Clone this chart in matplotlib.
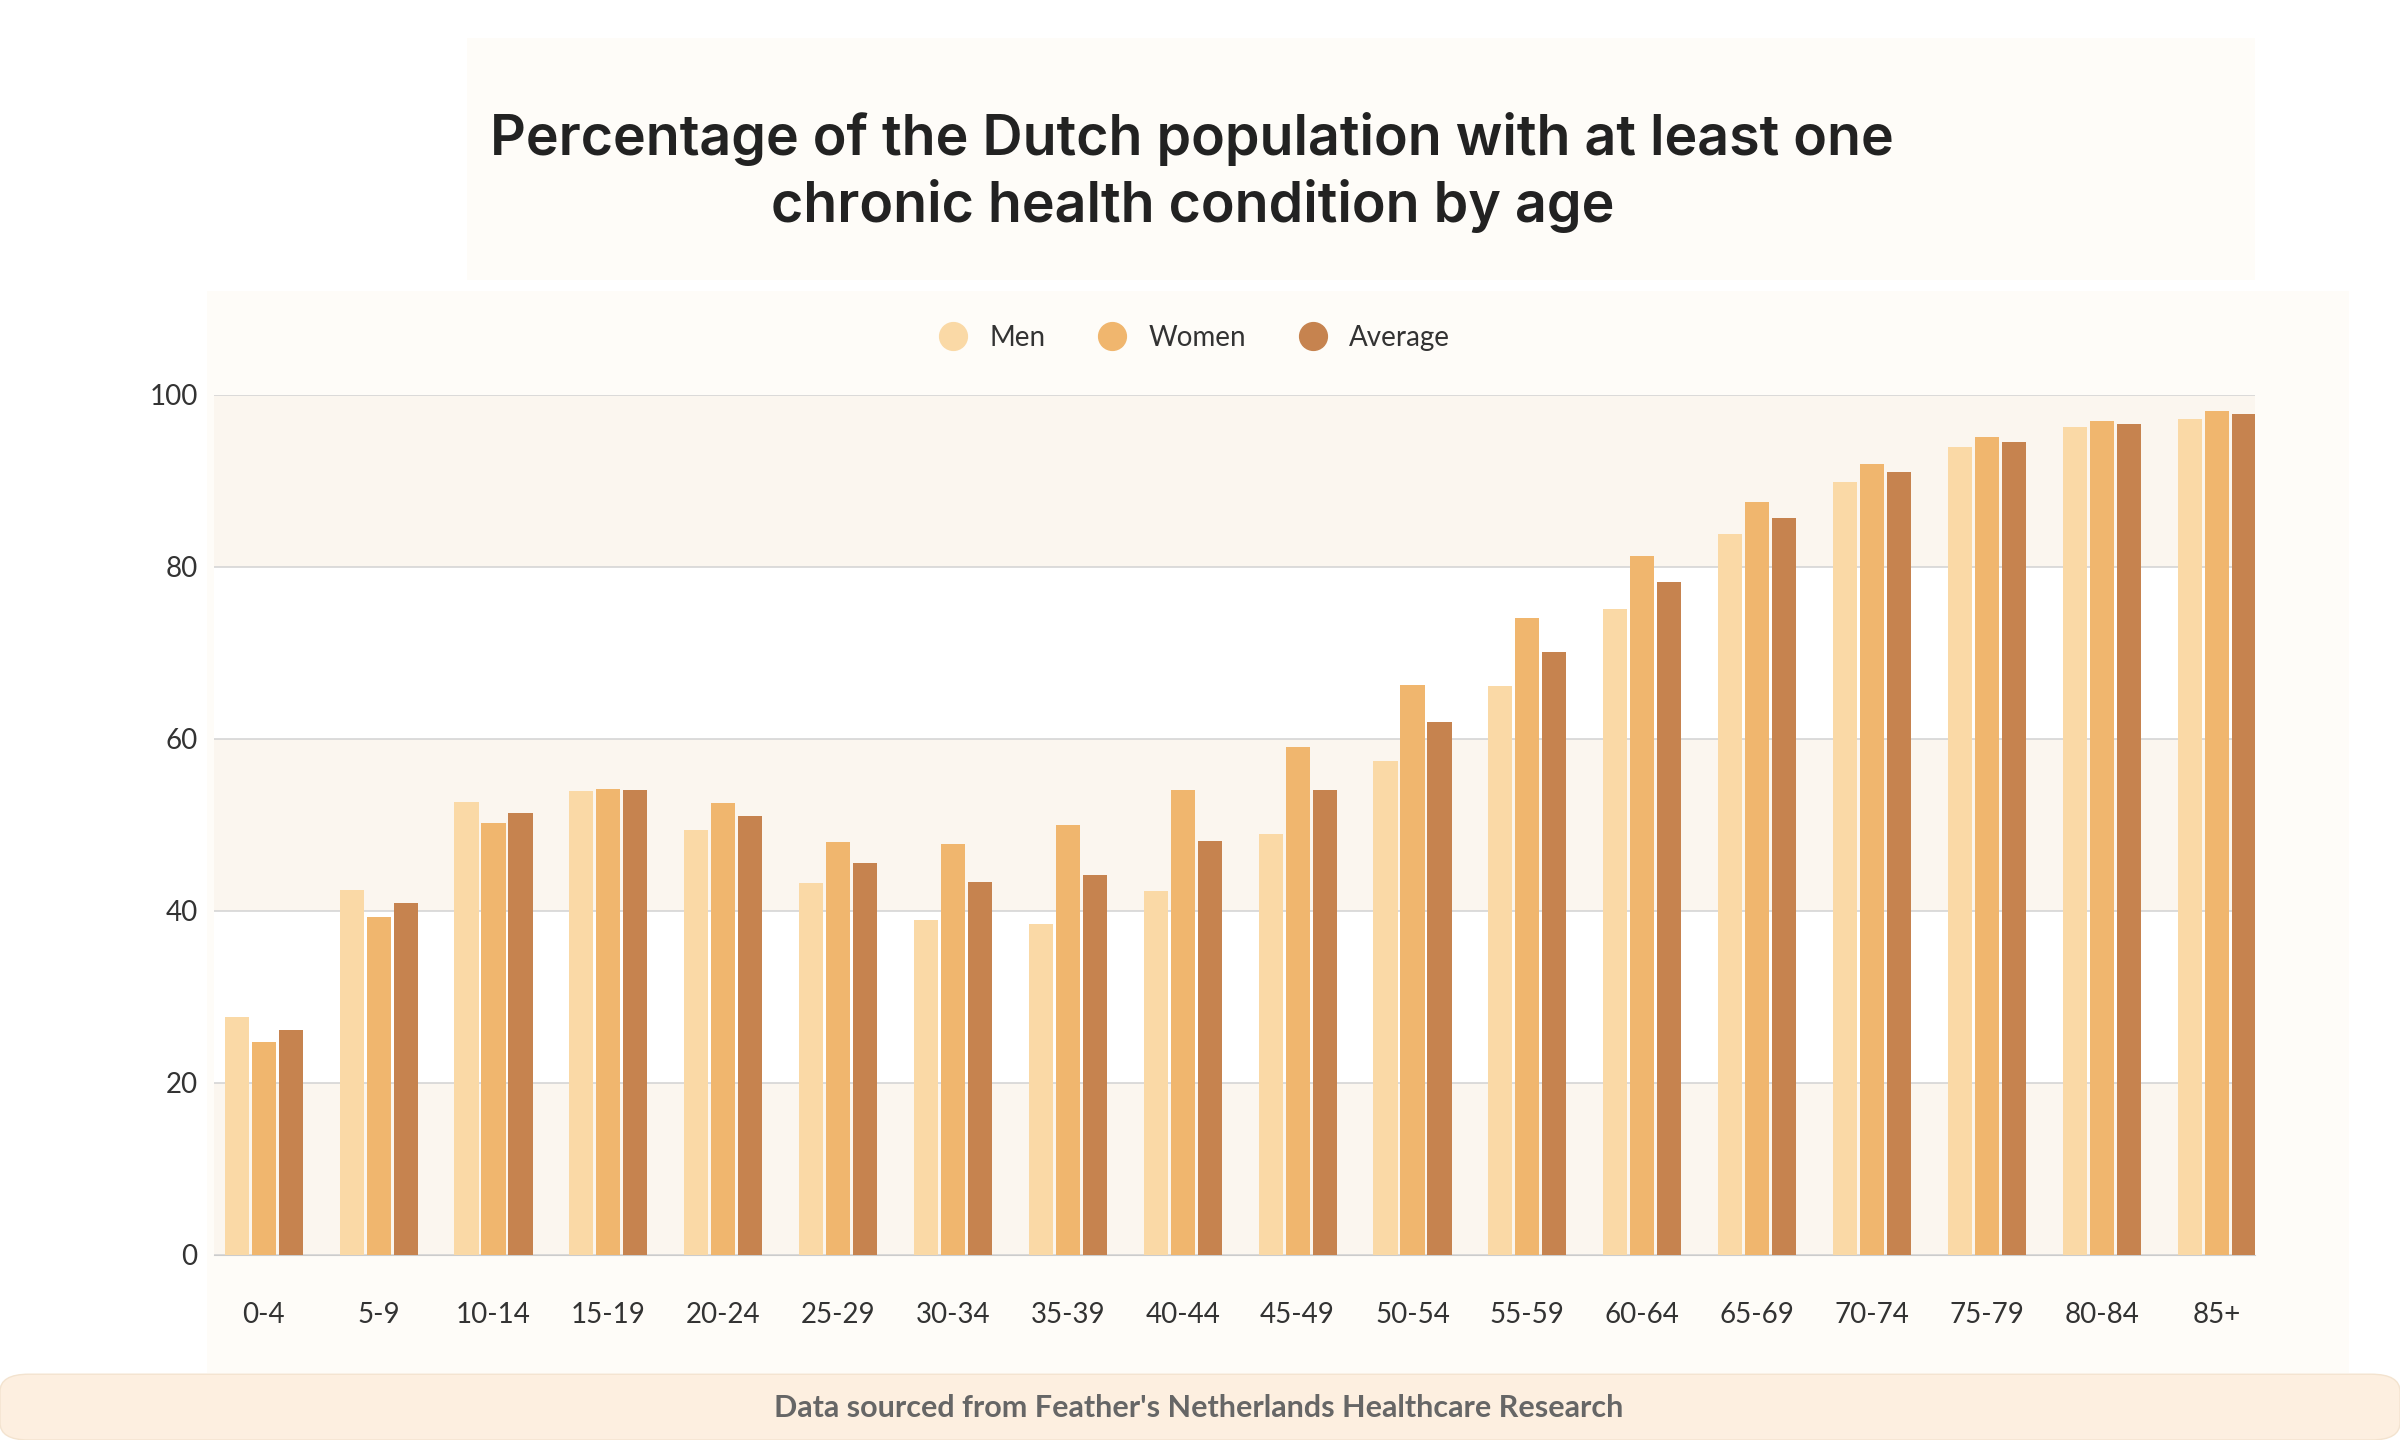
import matplotlib.pyplot as plt
from matplotlib.patches import FancyBboxPatch, Rectangle
import numpy as np

plt.rcParams['font.family'] = ['Lato', 'DejaVu Sans']

ages = ['0-4', '5-9', '10-14', '15-19', '20-24', '25-29', '30-34', '35-39', '40-44',
        '45-49', '50-54', '55-59', '60-64', '65-69', '70-74', '75-79', '80-84', '85+']
men = [27.7, 42.4, 52.6, 53.9, 49.4, 43.2, 38.9, 38.5, 42.3, 48.9, 57.4, 66.1, 75.1, 83.8, 89.9, 93.9, 96.2, 97.2]
women = [24.7, 39.3, 50.2, 54.2, 52.5, 48.0, 47.8, 50.0, 54.0, 59.1, 66.3, 74.1, 81.2, 87.5, 92.0, 95.1, 97.0, 98.1]
average = [26.2, 40.9, 51.4, 54.1, 51.0, 45.6, 43.3, 44.2, 48.1, 54.0, 61.9, 70.1, 78.2, 85.7, 91.0, 94.5, 96.6, 97.8]
series = [('Men', men, '#FAD9A6'), ('Women', women, '#F0B66E'), ('Average', average, '#C6834F')]

fig = plt.figure(figsize=(24, 14.4), dpi=100)
fig.patch.set_facecolor('white')

# background panels
fig.add_artist(Rectangle((305/1568, 1-183/941), (1473-305)/1568, (183-25)/941,
                         transform=fig.transFigure, facecolor='#FEFCF8', edgecolor='none', zorder=0))
fig.add_artist(Rectangle((135/1568, 1-897/941), (1535-135)/1568, (897-190)/941,
                         transform=fig.transFigure, facecolor='#FEFCF8', edgecolor='none', zorder=0))
fig.add_artist(FancyBboxPatch((0.0, 0.0), 1.0, 1-898/941, boxstyle='round,pad=0,rounding_size=0.012',
                              transform=fig.transFigure, facecolor='#FDEFE0', edgecolor='#F3E3CF',
                              linewidth=1, zorder=0))

ax = fig.add_axes([140/1568, 1-820/941, (1473-140)/1568, (820-258)/941])
ax.set_facecolor('white')
for lo in (0, 40, 80):
    ax.axhspan(lo, lo + 20, color='#FBF6EF', zorder=0, lw=0)

x = np.arange(len(ages))
w = 0.21
for i, (name, vals, col) in enumerate(series):
    ax.bar(x + (i - 1) * 0.235, vals, width=w, color=col, label=name, zorder=3)

ax.set_ylim(0, 100)
ax.set_xlim(-0.43, 17.33)
ax.set_yticks([0, 20, 40, 60, 80, 100])
ax.yaxis.grid(True, color='#D5D5D5', lw=1.2, zorder=1)
ax.set_xticks(x)
ax.set_xticklabels(ages)
ax.tick_params(length=0, labelsize=20, colors='#333333')
ax.tick_params(axis='x', pad=34)
ax.tick_params(axis='y', pad=12)
for s in ax.spines.values():
    s.set_visible(False)
ax.spines['bottom'].set_visible(True)
ax.spines['bottom'].set_color('#CCCCCC')

handles = [plt.Line2D([], [], marker='o', ls='', ms=20, color=c) for _, _, c in series]
fig.legend(handles, [n for n, _, _ in series], loc='center', bbox_to_anchor=(776/1568, 1-221/941),
           ncol=3, frameon=False, fontsize=20, handletextpad=0.3, columnspacing=1.4, labelcolor='#333333')

fig.text(779/1568, 1-113/941, 'Percentage of the Dutch population with at least one\nchronic health condition by age',
         ha='center', va='center', fontsize=40, fontweight='semibold', color='#222222', linespacing=1.3,
         family=['Inter', 'DejaVu Sans'])
fig.text(783/1568, 1-920/941, "Data sourced from Feather's Netherlands Healthcare Research",
         ha='center', va='center', fontsize=22, fontweight='bold', color='#666666')

fig.savefig('out.png', dpi=100, facecolor=fig.get_facecolor())
